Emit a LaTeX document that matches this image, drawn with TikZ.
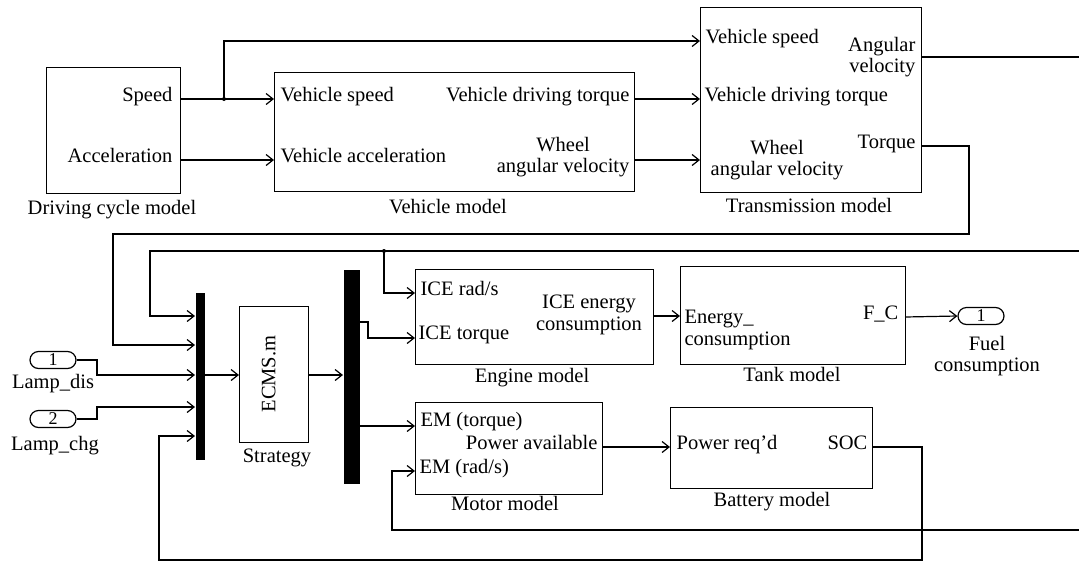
\documentclass[tikz,border=0pt]{standalone}
\usepackage{fontspec}
\setmainfont{Liberation Serif}
\usetikzlibrary{arrows.meta,shapes.misc}
\begin{document}
\begin{tikzpicture}[x=1pt,y=-1pt,line width=1.2pt,
  >={Straight Barb[length=7pt,width=11pt]},
  blk/.style={draw,line width=1.2pt,inner sep=0pt,anchor=north west},
  bar/.style={fill=black,draw=none,inner sep=0pt,anchor=north west},
  port/.style={draw,line width=1.2pt,rounded rectangle,minimum width=46pt,minimum height=17pt,inner sep=0pt,font=\fontsize{18}{18}\selectfont},
  lbl/.style={inner sep=0pt,font=\fontsize{20.5}{21.5}\selectfont,text height=0.68em,text depth=0.22em},
  mlbl/.style={inner sep=0pt,font=\fontsize{20.5}{21.5}\selectfont},
  dot/.style={circle,fill=black,inner sep=0pt,minimum size=4pt}]
\useasboundingbox (0,0) rectangle (1079,563);

% ---------- blocks ----------
\node[blk,minimum width=134pt,minimum height=126pt] (dc) at (46,67) {};
\node[blk,minimum width=360pt,minimum height=119pt] (veh) at (274,72) {};
\node[blk,minimum width=221pt,minimum height=185pt] (tr) at (700,7) {};
\node[blk,minimum width=69pt,minimum height=136pt] (ecms) at (239,306) {};
\node[blk,minimum width=238pt,minimum height=95pt] (eng) at (415,269) {};
\node[blk,minimum width=225pt,minimum height=98pt] (tank) at (680,266) {};
\node[blk,minimum width=187pt,minimum height=92pt] (mot) at (415,402) {};
\node[blk,minimum width=202pt,minimum height=81pt] (bat) at (670,407) {};
\node[bar,minimum width=9pt,minimum height=167pt] (mux1) at (195,292) {};
\node[bar,minimum width=16pt,minimum height=214pt] (mux2) at (343,269) {};
\node[port] (in1) at (53,360) {1};
\node[port] (in2) at (53,419) {2};
\node[port] (out1) at (981,316) {1};

% ---------- texts ----------
\node[lbl,anchor=east] (tSpeed) at (173,99) {Speed};
\node[lbl,anchor=east] (tAcc) at (173,160) {Acceleration};
\node[lbl] (tDC) at (112,212) {Driving cycle model};
\node[lbl,anchor=west] (tVS) at (280,99) {Vehicle speed};
\node[lbl,anchor=west] (tVA) at (280,160) {Vehicle acceleration};
\node[lbl,anchor=east] (tVDT) at (630,99) {Vehicle driving torque};
\node[mlbl,anchor=east,align=center] (tWAV) at (630,157) {Wheel\\angular velocity};
\node[lbl] (tVM) at (448,211) {Vehicle model};
\node[lbl,anchor=west] (tTVS) at (705,41) {Vehicle speed};
\node[mlbl,anchor=east,align=right] (tAV) at (916,57) {Angular\\velocity};
\node[lbl,anchor=west] (tTVDT) at (704,99) {Vehicle driving torque};
\node[mlbl,align=center] (tTWAV) at (777,160) {Wheel\\angular velocity};
\node[lbl,anchor=east] (tTq) at (916,146) {Torque};
\node[lbl] (tTM) at (809,210) {Transmission model};

\node[lbl] (tLd) at (53,386) {Lamp\_dis};
\node[lbl] (tLc) at (55,448) {Lamp\_chg};
\node[lbl,rotate=90] (tECMS) at (273,374) {ECMS.m};
\node[lbl] (tStr) at (277,460) {Strategy};

\node[lbl,anchor=west] (tICEr) at (420,293) {ICE rad/s};
\node[lbl,anchor=west] (tICEt) at (418,337) {ICE torque};
\node[mlbl,align=center] (tICEe) at (589,315) {ICE energy\\consumption};
\node[lbl] (tEM) at (532,380) {Engine model};
\node[mlbl,anchor=west,align=left] (tEc) at (684,330) {Energy\_\\consumption};
\node[lbl,anchor=east] (tFC) at (899,317) {F\_C};
\node[lbl] (tTank) at (792,379) {Tank model};
\node[mlbl,align=center] (tFuel) at (987,356) {Fuel\\consumption};

\node[lbl,anchor=west] (tEMt) at (420,424) {EM (torque)};
\node[lbl,anchor=east] (tPA) at (598,447) {Power available};
\node[lbl,anchor=west] (tEMr) at (419,471) {EM (rad/s)};
\node[lbl] (tMM) at (505,508) {Motor model};
\node[lbl,anchor=west] (tPR) at (676,447) {Power req’d};
\node[lbl,anchor=east] (tSOC) at (868,447) {SOC};
\node[lbl] (tBM) at (772,504) {Battery model};

% ---------- port coordinates ----------
\coordinate (dcS) at (180,99);
\coordinate (dcA) at (180,160);
\coordinate (vS) at (274,99);
\coordinate (vA) at (274,160);
\coordinate (vT) at (634,99);
\coordinate (vW) at (634,160);
\coordinate (trS) at (700,41);
\coordinate (trT) at (700,99);
\coordinate (trW) at (700,160);
\coordinate (trAV) at (921,57);
\coordinate (trTq) at (921,146);
\coordinate (edgeAV) at (1079,57);
\coordinate (edgeTop) at (1079,251);
\coordinate (edgeBot) at (1079,530);
\node[dot] (j1) at (224,99) {};
\node[dot] (j2) at (384,251) {};
\coordinate (m1a) at (195,316);
\coordinate (m1b) at (195,345);
\coordinate (m1c) at (195,375);
\coordinate (m1d) at (195,407);
\coordinate (m1e) at (195,436);
\coordinate (m1o) at (204,375);
\coordinate (ecI) at (239,375);
\coordinate (ecO) at (308,375);
\coordinate (m2I) at (343,375);
\coordinate (m2a) at (359,322);
\coordinate (m2b) at (359,426);
\coordinate (engR) at (415,293);
\coordinate (engT) at (415,338);
\coordinate (engO) at (653,316);
\coordinate (tankI) at (680,316);
\coordinate (tankO) at (905,317);
\coordinate (motT) at (415,426);
\coordinate (motR) at (415,471);
\coordinate (motO) at (602,447);
\coordinate (batI) at (670,447);
\coordinate (batO) at (872,447);

% ---------- connectors ----------
\draw[->] (dcS) -- (vS);
\draw[->] (j1.center) |- (trS);
\draw[->] (dcA) -- (vA);
\draw[->] (vT) -- (trT);
\draw[->] (vW) -- (trW);
\draw (trAV) -- (edgeAV);
\draw[->] (trTq) -- (969,146) -- (969,234) -- (113,234) -- (113,345) -- (m1b);
\draw[->] (edgeTop) -- (150,251) -- (150,316) -- (m1a);
\draw[->] (j2.center) |- (engR);
\draw[->] (in1.east) -- (97,360) -- (97,375) -- (m1c);
\draw[->] (in2.east) -- (97,419) -- (97,407) -- (m1d);
\draw[->] (batO) -- (922,447) -- (922,560) -- (159,560) -- (159,436) -- (m1e);
\draw[->] (m1o) -- (ecI);
\draw[->] (ecO) -- (m2I);
\draw[->] (m2a) -- (368,322) -- (368,338) -- (engT);
\draw[->] (m2b) -- (motT);
\draw[->] (engO) -- (tankI);
\draw[->] (tankO) -- (out1.west);
\draw[->] (motO) -- (batI);
\draw[->] (edgeBot) -- (392,530) -- (392,471) -- (motR);
\end{tikzpicture}
\end{document}
